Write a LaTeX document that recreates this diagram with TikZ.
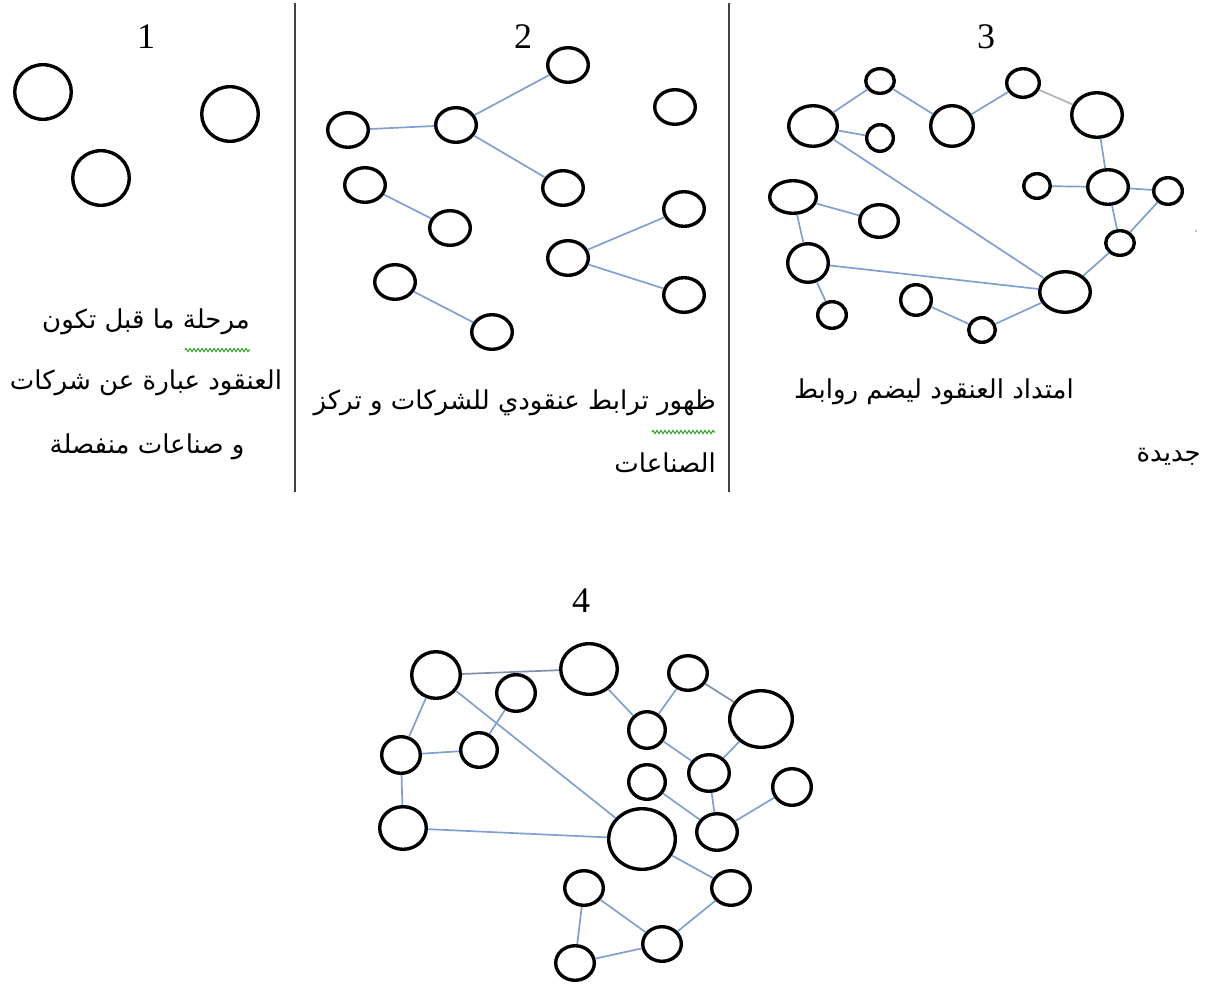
\documentclass[tikz,border=0pt]{standalone}
\usepackage{fontspec}
\setmainfont{Liberation Serif}
\newfontfamily\arabicfont[Script=Arabic]{DejaVu Sans}
\TeXXeTstate=1
\usetikzlibrary{shapes.geometric,decorations.pathmorphing}
\definecolor{linkblue}{RGB}{128,160,212}
\definecolor{squig}{RGB}{60,165,50}
\newcommand{\circnode}[5]{\node[blob={#4}{#5}] (#1) at (#2,#3) {};}
\begin{document}
\begin{tikzpicture}[x=1pt,y=-1pt,
  blob/.style 2 args={draw=black,line width=3.4pt,ellipse,inner sep=0pt,
     minimum width=2*#1-3.4,minimum height=2*#2-3.4},
  conn/.style={draw=linkblue,line width=1.7pt},
  sep/.style={draw=black!75,line width=1.3pt},
  numlabel/.style={font=\fontsize{36}{40}\selectfont,inner sep=0pt},
  atext/.style={font=\arabicfont\fontsize{26}{30}\selectfont,inner sep=0pt},
  squiggle/.style={draw=squig,line width=1.1pt,decorate,
     decoration={zigzag,segment length=4pt,amplitude=1.6pt}}]
\useasboundingbox (0,0) rectangle (1206,987);

% separators
\draw[sep] (295,3) -- (295,492);
\draw[sep] (729,3) -- (729,492);

% numbers
\node[numlabel] (n1lab) at (146,37) {1};
\node[numlabel] (n2lab) at (523,37) {2};
\node[numlabel] (n3lab) at (986,37) {3};
\node[numlabel] (n4lab) at (581,601) {4};

% ---------- panel 1
\circnode{a1}{43}{92}{30}{29}
\circnode{a2}{230}{114}{30}{29}
\circnode{a3}{101}{178}{30}{29}

% ---------- panel 2
\circnode{bA}{568}{65}{22}{19}
\circnode{bB}{675}{107}{22}{19}
\circnode{bC}{348}{130}{22}{19}
\circnode{bD}{456}{125}{22}{19}
\circnode{bE}{563}{188}{22}{19}
\circnode{bF}{365}{185}{22}{19}
\circnode{bG}{450}{228}{22}{19}
\circnode{bH}{684}{209}{22}{19}
\circnode{bI}{568}{258}{22}{19}
\circnode{bJ}{684}{295}{22}{19}
\circnode{bK}{395}{282}{22}{19}
\circnode{bL}{492}{332}{22}{19}
\draw[conn] (bC) -- (bD);
\draw[conn] (bD) -- (bA);
\draw[conn] (bD) -- (bE);
\draw[conn] (bF) -- (bG);
\draw[conn] (bI) -- (bH);
\draw[conn] (bI) -- (bJ);
\draw[conn] (bK) -- (bL);

% ---------- panel 3
\circnode{c1}{880}{81}{16}{14}
\circnode{c2}{813}{126}{26}{22}
\circnode{c3}{880}{138}{15}{15}
\circnode{c4}{952}{126}{23}{22}
\circnode{c5}{1023}{83}{18}{16}
\circnode{c6}{1097}{115}{27}{24}
\circnode{c7}{1037}{186}{15}{14}
\circnode{c8}{1108}{187}{22}{19}
\circnode{c9}{1168}{191}{16}{15}
\circnode{c10}{793}{197}{25}{18}
\circnode{c11}{879}{221}{21}{18}
\circnode{c12}{1120}{243}{16}{14}
\circnode{c13}{808}{263}{22}{21}
\circnode{c14}{1065}{292}{27}{22}
\circnode{c15}{916}{300}{17}{17}
\circnode{c16}{832}{315}{16}{15}
\circnode{c17}{982}{330}{15}{14}
\draw[conn] (c2) -- (c1);
\draw[conn] (c1) -- (c4);
\draw[conn] (c4) -- (c5);
\draw[conn,draw=gray!60] (c5) -- (c6);
\draw[conn] (c2) -- (c3);
\draw[conn] (c2) -- (c14);
\draw[conn] (c6) -- (c8);
\draw[conn] (c7) -- (c8);
\draw[conn] (c8) -- (c9);
\draw[conn] (c8) -- (c12);
\draw[conn] (c9) -- (c12);
\draw[conn] (c12) -- (c14);
\draw[conn] (c10) -- (c11);
\draw[conn] (c10) -- (c13);
\draw[conn] (c13) -- (c14);
\draw[conn] (c13) -- (c16);
\draw[conn] (c15) -- (c17);
\draw[conn] (c17) -- (c14);
\fill[gray] (1196,231) circle (0.9);

% ---------- panel 4
\circnode{m1}{436}{675}{26}{25}
\circnode{m2}{516}{693}{21}{20}
\circnode{m3}{589}{669}{30}{27}
\circnode{m4}{688}{673}{21}{19}
\circnode{m5}{761}{719}{33}{30}
\circnode{m6}{647}{730}{20}{20}
\circnode{m7}{401}{755}{21}{20}
\circnode{m8}{479}{750}{20}{19}
\circnode{m9}{647}{782}{20}{19}
\circnode{m10}{709}{773}{22}{20}
\circnode{m11}{792}{787}{21}{20}
\circnode{m12}{403}{828}{25}{23}
\circnode{m13}{642}{839}{35}{32}
\circnode{m14}{717}{832}{22}{20}
\circnode{m15}{584}{888}{21}{19}
\circnode{m16}{731}{888}{21}{19}
\circnode{m17}{662}{944}{21}{19}
\circnode{m18}{575}{963}{21}{19}
\draw[conn,draw=gray!50!linkblue] (m1) -- (m3);
\draw[conn] (m1) -- (m7);
\draw[conn] (m1) -- (m13);
\draw[conn] (m7) -- (m8);
\draw[conn] (m8) -- (m2);
\draw[conn] (m7) -- (m12);
\draw[conn] (m12) -- (m13);
\draw[conn] (m3) -- (m6);
\draw[conn] (m6) -- (m4);
\draw[conn] (m6) -- (m10);
\draw[conn,draw=gray!50!linkblue] (m4) -- (m5);
\draw[conn] (m5) -- (m10);
\draw[conn] (m10) -- (m14);
\draw[conn] (m9) -- (m14);
\draw[conn] (m14) -- (m11);
\draw[conn] (m13) -- (m16);
\draw[conn] (m15) -- (m17);
\draw[conn] (m15) -- (m18);
\draw[conn] (m18) -- (m17);
\draw[conn] (m17) -- (m16);

% ---------- texts
\node[atext] (t1a) at (146,322) {\beginR مرحلة ما قبل تكون\endR};
\node[atext] (t1b) at (146,383) {\beginR العنقود عبارة عن شركات\endR};
\node[atext] (t1c) at (147,447) {\beginR و صناعات منفصلة\endR};
\draw[squiggle] (185,350) -- (250,350);

\node[atext,anchor=east] (t2a) at (716,403) {\beginR ظهور ترابط عنقودي للشركات و تركز\endR};
\node[atext,anchor=east] (t2b) at (716,463) {\beginR الصناعات\endR};
\draw[squiggle] (652,432) -- (715,432);

\node[atext,anchor=east] (t3a) at (1074,392) {\beginR امتداد العنقود ليضم روابط\endR};
\node[atext,anchor=east] (t3b) at (1201,457) {\beginR جديدة\endR};
\end{tikzpicture}
\end{document}
